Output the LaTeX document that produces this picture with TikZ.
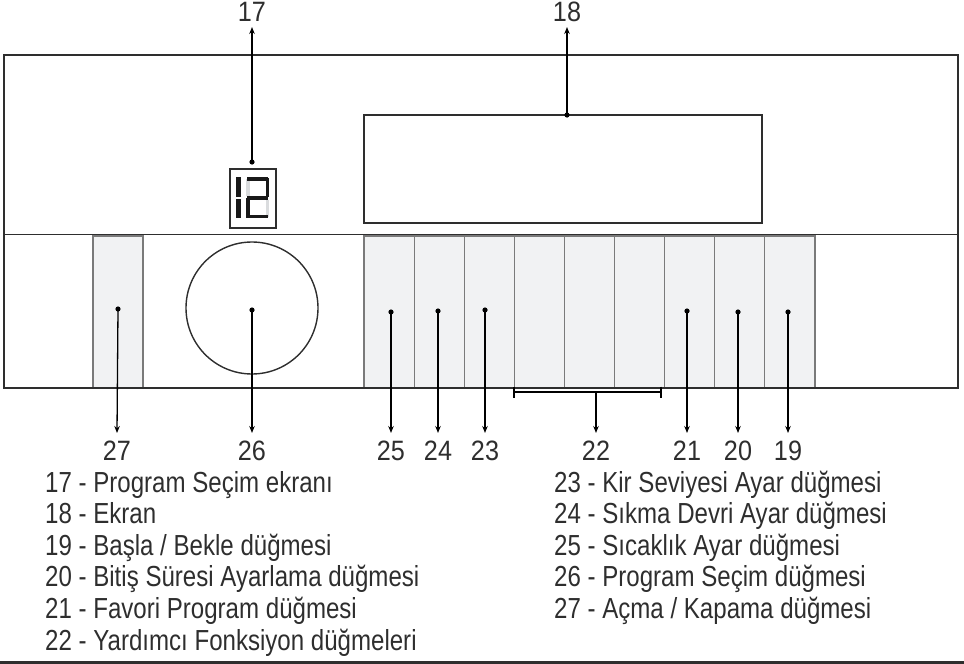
\documentclass[tikz,border=0pt]{standalone}
\usepackage{fontspec}
\setmainfont{Liberation Sans}
\newfontfamily\legendfont[FakeStretch=0.83]{Liberation Sans}
\newfontfamily\numfont[FakeStretch=0.9]{Liberation Sans}
\usetikzlibrary{arrows.meta}
\definecolor{ink}{HTML}{2E2E2E}
\definecolor{btnfill}{HTML}{F1F2F3}
\definecolor{btnedge}{HTML}{7A7A7A}
\definecolor{segoff}{HTML}{DADCDE}
\tikzset{
  panel/.style={draw=ink, line width=1.8pt},
  btn/.style={draw=btnedge, fill=btnfill, line width=1.2pt},
  pointer/.style={draw=black, line width=1.3pt, -{Stealth[length=7pt,width=5.5pt]}},
  dotmark/.style={fill=black},
  num/.style={anchor=base, text=ink, font=\numfont\fontsize{28}{32}\selectfont, inner sep=0pt},
  legend/.style={anchor=base west, text=ink, font=\legendfont\fontsize{29}{32}\selectfont, inner sep=0pt},
  segon/.style={fill=black!90},
  segoffst/.style={fill=segoff},
}
\begin{document}
\begin{tikzpicture}[x=1pt,y=-1pt]
\useasboundingbox (0,0) rectangle (964,664);
% panel
\draw[panel] (4,55) rectangle (958,388);
\draw[panel] (4,234.5) -- (958,234.5);
% screen 18
\draw[panel, line width=1.5pt] (364,115) rectangle (762,223);
% 7-seg display 17
\draw[ink, line width=1.5pt] (230,169) rectangle (276,228);
\fill[segon] (236,177) rectangle (241,197);
\fill[segon] (236,198.5) rectangle (241,218);
\fill[segoffst] (246,179) rectangle (249.5,196);
\fill[segoffst] (265.5,199.5) rectangle (269,216.5);
\fill[segon] (247,177) rectangle (268,180.5);
\fill[segon] (265.5,178) rectangle (269,197);
\fill[segon] (247,196) rectangle (268,199.5);
\fill[segon] (246,198) rectangle (249.5,218);
\fill[segon] (247,214.5) rectangle (268,218);
% button 27
\draw[btn] (93,236) rectangle (143,388);
% knob 26
\draw[ink, line width=1.4pt] (252,308) circle (66);
% button row
\foreach \i in {0,...,8} {
  \draw[btn] ({364+50.1*\i},236) rectangle ({364+50.1*(\i+1)},388);
}
\draw[panel] (4,388) -- (958,388);
% bottom rule
\draw[ink, line width=3pt] (0,662.5) -- (964,662.5);

% dots / start points
\coordinate (d17) at (252,162);
\coordinate (d18) at (567,115);
\coordinate (d27) at (118,309);
\coordinate (d26) at (252,310);
\coordinate (d25) at (391,312);
\coordinate (d24) at (438,311);
\coordinate (d23) at (485,310);
\coordinate (d22) at (596,392);
\coordinate (d21) at (687,311);
\coordinate (d20) at (738,312);
\coordinate (d19) at (788,312);
\foreach \n in {17,18,27,26,25,24,23,21,20,19} {
  \fill[dotmark] (d\n) circle (2.6);
}
% bracket 22
\coordinate (bl) at (514,392);
\coordinate (br) at (661,392);
\draw[black, line width=1.3pt] (bl) -- (br);
\draw[black, line width=1.6pt] (514,386.5) -- (514,398);
\draw[black, line width=1.6pt] (661,386.5) -- (661,398);

% labels
\node[num] (l17) at (252,21) {17};
\node[num] (l18) at (567,21) {18};
\foreach \n/\x in {27/117,26/252,25/391,24/438,23/485,22/596,21/687,20/738,19/788} {
  \node[num] (l\n) at (\x,460) {\n};
  \coordinate (t\n) at (\x,433);
}
\coordinate (t17) at (252,27);
\coordinate (t18) at (567,27);

% pointers
\foreach \n in {17,18,27,26,25,24,23,22,21,20,19} {
  \draw[pointer] (d\n) -- (t\n);
}

% legend
\node[legend] (g17) at (45,492) {17 - Program Seçim ekranı};
\node[legend] (g18) at (45,523.6) {18 - Ekran};
\node[legend] (g19) at (45,555.2) {19 - Başla / Bekle düğmesi};
\node[legend] (g20) at (45,586.8) {20 - Bitiş Süresi Ayarlama düğmesi};
\node[legend] (g21) at (45,618.4) {21 - Favori Program düğmesi};
\node[legend] (g22) at (45,650) {22 - Yardımcı Fonksiyon düğmeleri};
\node[legend] (g23) at (554,492) {23 - Kir Seviyesi Ayar düğmesi};
\node[legend] (g24) at (554,523.6) {24 - Sıkma Devri Ayar düğmesi};
\node[legend] (g25) at (554,555.2) {25 - Sıcaklık Ayar düğmesi};
\node[legend] (g26) at (554,586.8) {26 - Program Seçim düğmesi};
\node[legend] (g27) at (554,618.4) {27 - Açma / Kapama düğmesi};
\end{tikzpicture}
\end{document}
